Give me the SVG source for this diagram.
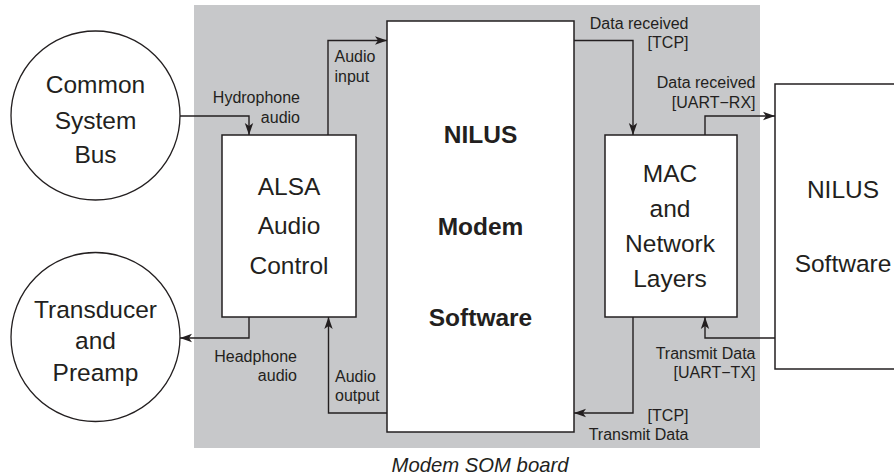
<svg xmlns="http://www.w3.org/2000/svg" width="894" height="476" viewBox="0 0 894 476">
<style>
.big{font-family:"Liberation Sans",Arial,sans-serif;font-size:24.5px;fill:#231f20;text-anchor:middle}
.bold{font-weight:bold}
.lab{font-family:"Liberation Sans",Arial,sans-serif;font-size:16px;fill:#231f20}
.end{text-anchor:end}
.cap{font-family:"Liberation Sans",Arial,sans-serif;font-size:20.3px;font-style:italic;fill:#231f20;text-anchor:middle}
.box{fill:#ffffff;stroke:#231f20;stroke-width:1.5}
.circ{fill:#ffffff;stroke:#231f20;stroke-width:1.3}
.wire{fill:none;stroke:#231f20;stroke-width:1.4;marker-end:url(#arr)}
</style>
<defs>
<marker id="arr" markerUnits="userSpaceOnUse" markerWidth="12" markerHeight="10" viewBox="0 0 12 10" refX="12" refY="5" orient="auto">
<path d="M0,0.8 L12,5 L0,9.2 L3,5 z" fill="#231f20"/>
</marker>
</defs>
<rect id="board" x="194" y="5" width="566" height="443" fill="#c7c8ca"/>
<g id="common-system-bus">
<circle class="circ" cx="95.5" cy="115.5" r="84.5"/>
<text class="big" x="95.5" y="92.7">Common</text>
<text class="big" x="95.5" y="129">System</text>
<text class="big" x="95.5" y="163.3">Bus</text>
</g>
<g id="transducer">
<circle class="circ" cx="95.5" cy="337" r="84.5"/>
<text class="big" x="95.5" y="317.5">Transducer</text>
<text class="big" x="95.5" y="349.2">and</text>
<text class="big" x="95.5" y="380.7">Preamp</text>
</g>
<g id="alsa">
<rect class="box" x="222" y="135" width="134" height="182"/>
<text class="big" x="289" y="195">ALSA</text>
<text class="big" x="289" y="234.3">Audio</text>
<text class="big" x="289" y="273.5">Control</text>
</g>
<g id="nilus-modem">
<rect class="box" x="387" y="21" width="187" height="411"/>
<text class="big bold" x="480.5" y="143.3">NILUS</text>
<text class="big bold" x="480.5" y="234.5">Modem</text>
<text class="big bold" x="480.5" y="326">Software</text>
</g>
<g id="mac">
<rect class="box" x="605" y="135" width="132" height="182"/>
<text class="big" x="670" y="181.7">MAC</text>
<text class="big" x="670" y="216.8">and</text>
<text class="big" x="670" y="251.8">Network</text>
<text class="big" x="670" y="286.8">Layers</text>
</g>
<g id="nilus-software">
<rect class="box" x="775" y="84" width="140" height="285"/>
<text class="big" x="843" y="198.3">NILUS</text>
<text class="big" x="843" y="271.7">Software</text>
</g>
<g id="connectors">
<path class="wire" d="M180 116 H249 V135"/>
<path class="wire" d="M328 135 V40.5 H387"/>
<path class="wire" d="M249 317 V338 H180"/>
<path class="wire" d="M387 413 H328.5 V317"/>
<path class="wire" d="M574 40.5 H633 V135"/>
<path class="wire" d="M705 135 V116 H775"/>
<path class="wire" d="M775 338 H705 V317"/>
<path class="wire" d="M633 317 V413 H574"/>
</g>
<g id="labels">
<text class="lab end" x="300" y="103">Hydrophone</text>
<text class="lab end" x="300" y="123">audio</text>
<text class="lab" x="334.5" y="61.5">Audio</text>
<text class="lab" x="334.5" y="81.5">input</text>
<text class="lab end" x="297" y="362">Headphone</text>
<text class="lab end" x="297" y="381">audio</text>
<text class="lab" x="335" y="381.5">Audio</text>
<text class="lab" x="335" y="401">output</text>
<text class="lab end" x="688.5" y="28.5">Data received</text>
<text class="lab end" x="688.5" y="48">[TCP]</text>
<text class="lab end" x="755.5" y="88">Data received</text>
<text class="lab end" x="755.5" y="107.5">[UART−RX]</text>
<text class="lab end" x="755.5" y="358.5">Transmit Data</text>
<text class="lab end" x="755.5" y="378.3">[UART−TX]</text>
<text class="lab end" x="688.5" y="420.7">[TCP]</text>
<text class="lab end" x="688.5" y="440.3">Transmit Data</text>
</g>
<text id="caption" class="cap" x="480" y="472">Modem SOM board</text>
</svg>
